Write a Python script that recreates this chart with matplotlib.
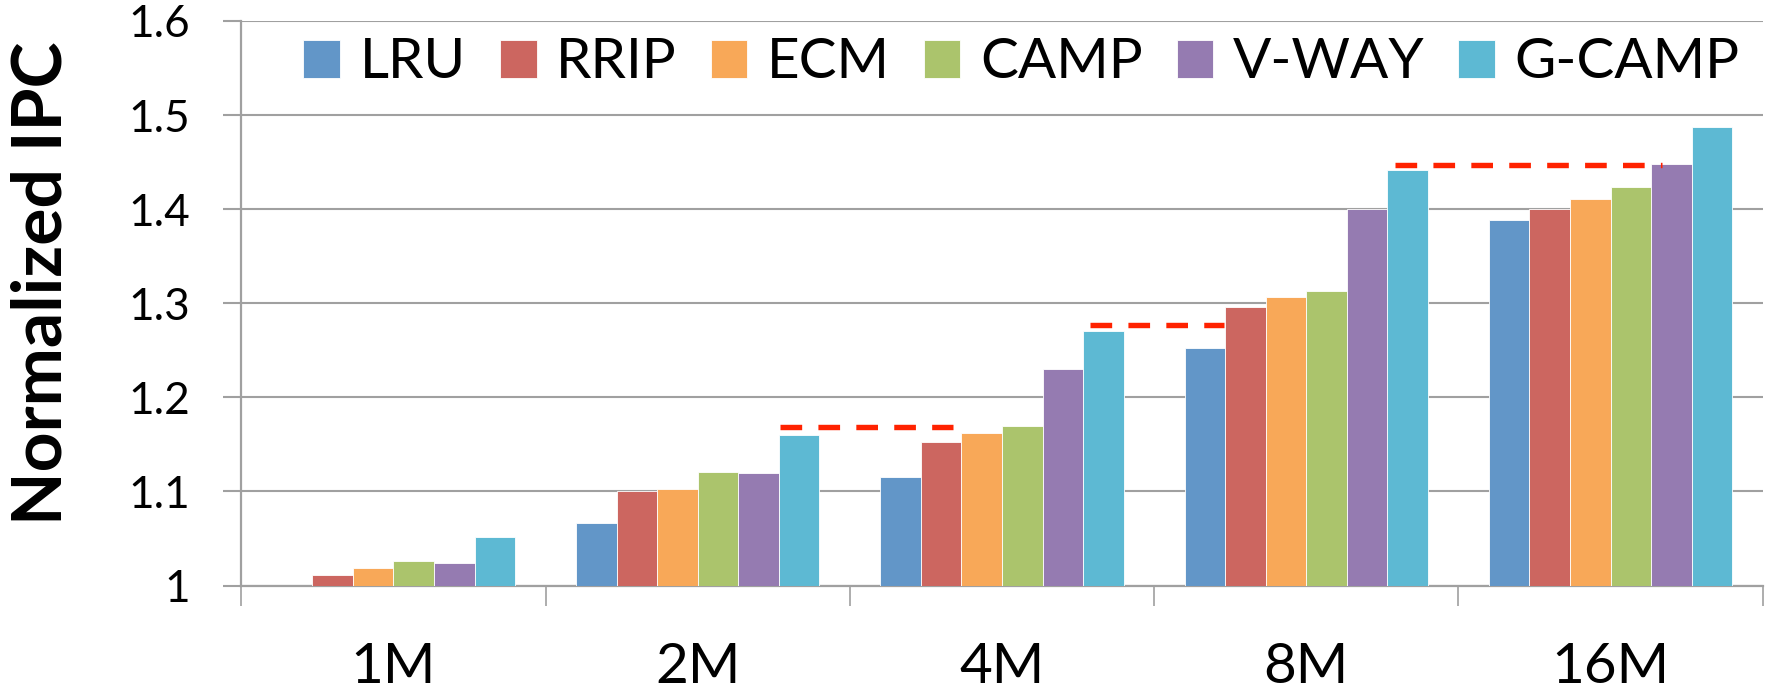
import matplotlib
matplotlib.use("Agg")
import matplotlib.pyplot as plt
import numpy as np

# ---- data ----
categories = ["1M", "2M", "4M", "8M", "16M"]
series_names = ["LRU", "RRIP", "ECM", "CAMP", "V-WAY", "G-CAMP"]
lru    = [1.000, 1.066, 1.115, 1.252, 1.388]
rrip   = [1.011, 1.100, 1.152, 1.296, 1.400]
ecm    = [1.019, 1.103, 1.162, 1.307, 1.411]
camp   = [1.026, 1.121, 1.170, 1.313, 1.424]
vway   = [1.024, 1.120, 1.230, 1.400, 1.448]
gcamp  = [1.052, 1.160, 1.270, 1.442, 1.487]
series_values = [lru, rrip, ecm, camp, vway, gcamp]
colors = ["#6296C8", "#CC6660", "#F8A858", "#ABC46C", "#957BB1", "#5DB9D3"]

# reference (dashed) lines: level and span in category units
ref_levels = [1.168, 1.277, 1.447]
ref_starts = [1.27, 2.29, 3.29]
ref_ends   = [1.84, 2.73, 4.17]

ytick_vals = [1.0, 1.1, 1.2, 1.3, 1.4, 1.5, 1.6]
ytick_labels = ["1", "1.1", "1.2", "1.3", "1.4", "1.5", "1.6"]

# ---- figure ----
W, H = 1770, 697
fig = plt.figure(figsize=(W / 100, H / 100), dpi=100)
ax_l, ax_r, ax_b, ax_t = 241.3, 1762.7, 585.5, 21.0
ax = fig.add_axes([ax_l / W, (H - ax_b) / H, (ax_r - ax_l) / W, (ax_b - ax_t) / H])

FONT = "Lato"
grid_c = "#A0A0A0"

n = len(series_names)
bw = 1.0 / 7.5
x = np.arange(len(categories))
for i, (name, vals, c) in enumerate(zip(series_names, series_values, colors)):
    offs = (i - (n - 1) / 2) * bw
    heights = np.array(vals) - 1.0
    ax.bar(x + offs, heights, width=bw, bottom=1.0, color=c, label=name,
           edgecolor="#FFFFFF", linewidth=0.6, zorder=3)

for lvl, s, e in zip(ref_levels, ref_starts, ref_ends):
    ax.plot([s, e], [lvl, lvl], color="#FF2200", linewidth=3.9,
            dashes=(4, 3), solid_capstyle="butt", dash_capstyle="butt", zorder=4)

ax.set_xlim(-0.5, len(categories) - 0.5)
ax.set_ylim(1.0, 1.6)

# y axis
ax.set_yticks(ytick_vals)
ax.set_yticklabels(ytick_labels, fontfamily=FONT, fontsize=31.8)
ax.tick_params(axis="y", direction="out", length=13, width=1.5, color=grid_c, pad=24)
ax.yaxis.grid(True, color=grid_c, linewidth=1.5, zorder=0)
ax.set_axisbelow(True)

# x axis
ax.set_xticks(x)
ax.set_xticklabels(categories, fontfamily=FONT, fontsize=40.8)
ax.tick_params(axis="x", which="major", length=0, pad=41)
ax.set_xticks(np.arange(-0.5, len(categories), 1.0), minor=True)
ax.tick_params(axis="x", which="minor", direction="out", length=14.5, width=1.2, color=grid_c)

for sp in ["top", "right"]:
    ax.spines[sp].set_visible(False)
for sp in ["left", "bottom"]:
    ax.spines[sp].set_color(grid_c)
    ax.spines[sp].set_linewidth(1.6)

# y label
fig.text(42 / W, 1 - 283 / H, "Normalized IPC", rotation=90, ha="center", va="center",
         fontfamily=FONT, fontweight="bold", fontsize=50)

leg = ax.legend(loc="center", bbox_to_anchor=(0.5128, 0.9256), ncol=6, frameon=False,
                prop={"family": FONT, "size": 40.8}, handlelength=0.65, handleheight=0.65,
                handletextpad=0.34, columnspacing=0.6, borderaxespad=0)

fig.savefig("out.png", dpi=100, facecolor="white")
